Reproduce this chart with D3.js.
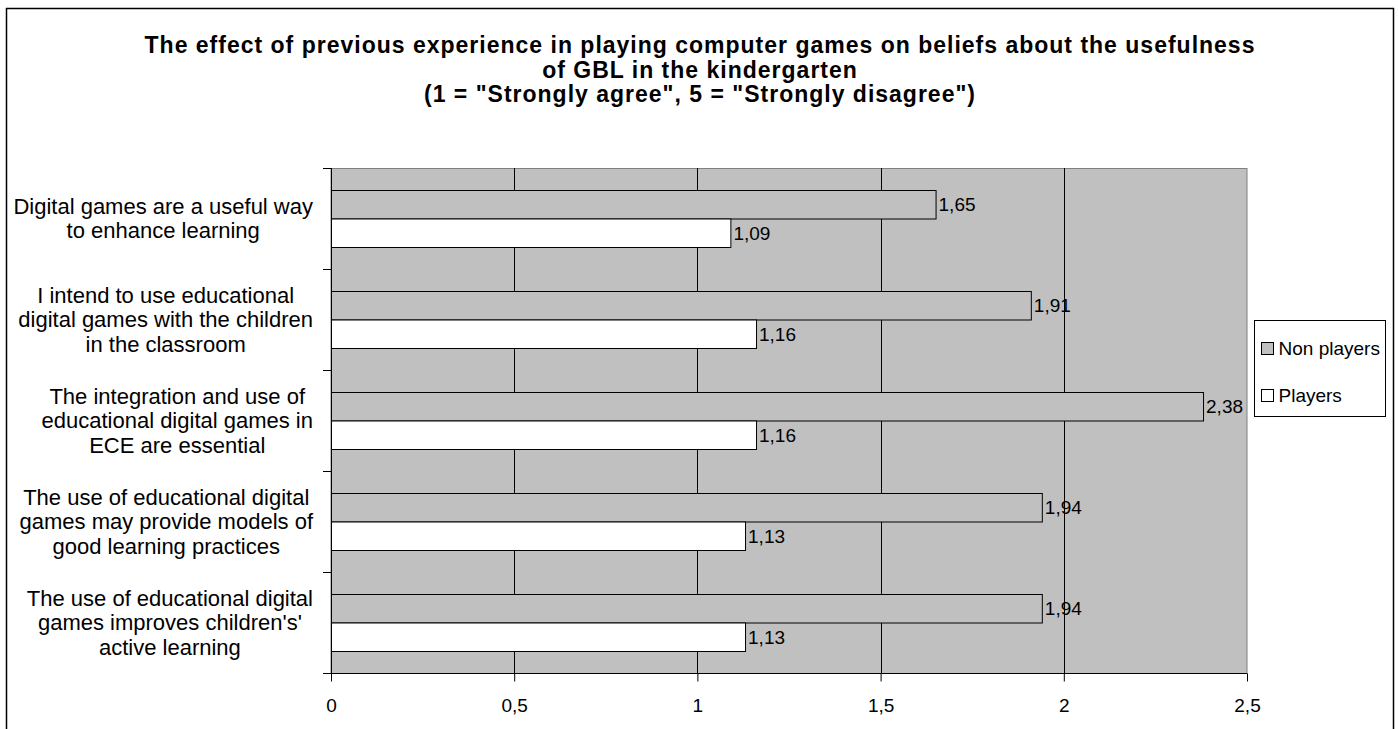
<!DOCTYPE html>
<html>
<head>
<meta charset="utf-8">
<script src="https://cdn.jsdelivr.net/npm/d3@7"></script>
<style>
  body { margin: 0; background: #fff; }
  text { font-family: "Liberation Sans", Arial, sans-serif; }
</style>
</head>
<body>
<div id="plot"></div>
<script>
var categories = [
  ["Digital games are a useful way", "to enhance learning"],
  ["I intend to use educational", "digital games with the children", "in the classroom"],
  ["The integration and use of", "educational digital games in", "ECE are essential"],
  ["The use of educational digital", "games may provide models of", "good learning practices"],
  ["The use of educational digital", "games improves children's'", "active learning"]
];
var seriesNames = ["Non players", "Players"];
var nonPlayers = [1.65, 1.91, 2.38, 1.94, 1.94];
var players = [1.09, 1.16, 1.16, 1.13, 1.13];
var xTicks = [0, 0.5, 1, 1.5, 2, 2.5];
var titleLines = [
  "The effect of previous experience in playing computer games on beliefs about the usefulness",
  "of GBL in the kindergarten",
  "(1 = \"Strongly agree\", 5 = \"Strongly disagree\")"
];

var W = 1398, H = 729;
var plotL = 331, plotR = 1247, plotT = 168, plotB = 673;
var colors = ["#c0c0c0", "#ffffff"];
var fmt = function(v) { return String(v).replace(".", ","); };

function drawChart() {
  var svg = d3.select("#plot").append("svg")
    .attr("width", W).attr("height", H);

  // outer frame
  svg.append("rect")
    .attr("x", 6.5).attr("y", 8.5)
    .attr("width", 1387).attr("height", 740)
    .attr("fill", "#fff").attr("stroke", "#000").attr("stroke-width", 1.5);

  // title
  svg.append("g").selectAll("text")
    .data(titleLines).enter().append("text")
    .attr("x", 700).attr("y", function(d, i) { return 53 + i * 24.5; })
    .attr("text-anchor", "middle")
    .style("font-size", "23px").style("font-weight", "bold")
    .style("letter-spacing", "1px")
    .text(function(d) { return d; });

  var x = d3.scaleLinear().domain([0, 2.5]).range([plotL, plotR]);
  var y = d3.scaleBand().domain(d3.range(categories.length)).range([plotT, plotB]);
  var inner = d3.scaleBand().domain([0, 1]).range([22, y.bandwidth() - 22]);

  // plot area
  svg.append("rect")
    .attr("x", plotL).attr("y", plotT + 0.5)
    .attr("width", plotR - plotL).attr("height", plotB - plotT)
    .attr("fill", "#c0c0c0").attr("stroke", "#808080").attr("stroke-width", 1);

  // gridlines
  svg.append("g").selectAll("line")
    .data(xTicks.slice(1, -1)).enter().append("line")
    .attr("x1", function(d) { return Math.round(x(d)) + 0.5; })
    .attr("x2", function(d) { return Math.round(x(d)) + 0.5; })
    .attr("y1", plotT).attr("y2", plotB)
    .attr("stroke", "#000").attr("stroke-width", 1);

  // bars
  var rows = categories.map(function(c, i) {
    return [{ i: i, s: 0, v: nonPlayers[i] }, { i: i, s: 1, v: players[i] }];
  });
  var bars = svg.append("g").selectAll("g")
    .data(rows).enter().append("g")
    .attr("transform", function(d, i) { return "translate(0," + y(i) + ")"; });

  bars.selectAll("rect")
    .data(function(d) { return d; }).enter().append("rect")
    .attr("x", x(0) + 0.5)
    .attr("y", function(d) { return inner(d.s) + 0.5; })
    .attr("width", function(d) { return x(d.v) - x(0); })
    .attr("height", inner.bandwidth())
    .attr("fill", function(d) { return colors[d.s]; })
    .attr("stroke", "#000").attr("stroke-width", 1);

  bars.selectAll("text")
    .data(function(d) { return d; }).enter().append("text")
    .attr("x", function(d) { return x(d.v) + 3; })
    .attr("y", function(d) { return inner(d.s) + inner.bandwidth() / 2 + 7; })
    .style("font-size", "19px")
    .text(function(d) { return fmt(d.v); });

  // x axis
  var xAxis = svg.append("g")
    .attr("transform", "translate(0," + (plotB + 0.5) + ")")
    .call(d3.axisBottom(x).tickValues(xTicks).tickFormat(fmt).tickSize(8).tickSizeOuter(0).tickPadding(17));
  xAxis.select(".domain").remove();
  xAxis.append("line").attr("x1", plotL - 8).attr("x2", plotR).attr("stroke", "#000");
  xAxis.selectAll(".tick line").attr("stroke", "#000");
  xAxis.selectAll(".tick text")
    .style("font-size", "19px").style("font-family", "Liberation Sans, Arial, sans-serif").attr("fill", "#000");

  // y axis line + ticks
  var yg = svg.append("g");
  yg.append("line")
    .attr("x1", plotL + 0.5).attr("x2", plotL + 0.5)
    .attr("y1", plotT).attr("y2", plotB)
    .attr("stroke", "#000");
  yg.selectAll(".yt")
    .data(d3.range(categories.length + 1)).enter().append("line")
    .attr("x1", plotL - 8).attr("x2", plotL)
    .attr("y1", function(d) { return plotT + d * y.step() + 0.5; })
    .attr("y2", function(d) { return plotT + d * y.step() + 0.5; })
    .attr("stroke", "#000");

  // category labels: centred block, right edge against the axis
  var lineH = 24.5, labelRight = 313;
  yg.selectAll(".cat")
    .data(categories).enter().append("text")
    .attr("text-anchor", "middle")
    .style("font-size", "22px")
    .each(function(lines, i) {
      var cy = y(i) + y.bandwidth() / 2;
      var y0 = cy - (lines.length - 1) * lineH / 2 + 7.5;
      var ts = d3.select(this).selectAll("tspan")
        .data(lines).enter().append("tspan")
        .attr("y", function(d, j) { return y0 + j * lineH; })
        .text(function(d) { return d; });
      var maxW = d3.max(ts.nodes(), function(n) { return n.getComputedTextLength(); });
      ts.attr("x", labelRight - maxW / 2);
    });

  // legend
  var lg = svg.append("g").attr("transform", "translate(1254.5,320.5)");
  lg.append("rect")
    .attr("width", 131).attr("height", 96)
    .attr("fill", "#fff").attr("stroke", "#000");
  var items = lg.selectAll(".item")
    .data(seriesNames).enter().append("g")
    .attr("transform", function(d, i) { return "translate(7," + (28 + i * 47) + ")"; });
  items.append("rect")
    .attr("x", 0).attr("y", -6).attr("width", 12).attr("height", 12)
    .attr("fill", function(d, i) { return colors[i]; })
    .attr("stroke", "#000");
  items.append("text")
    .attr("x", 17).attr("y", 6.5)
    .style("font-size", "19px")
    .text(function(d) { return d; });
}

drawChart();
</script>
</body>
</html>
